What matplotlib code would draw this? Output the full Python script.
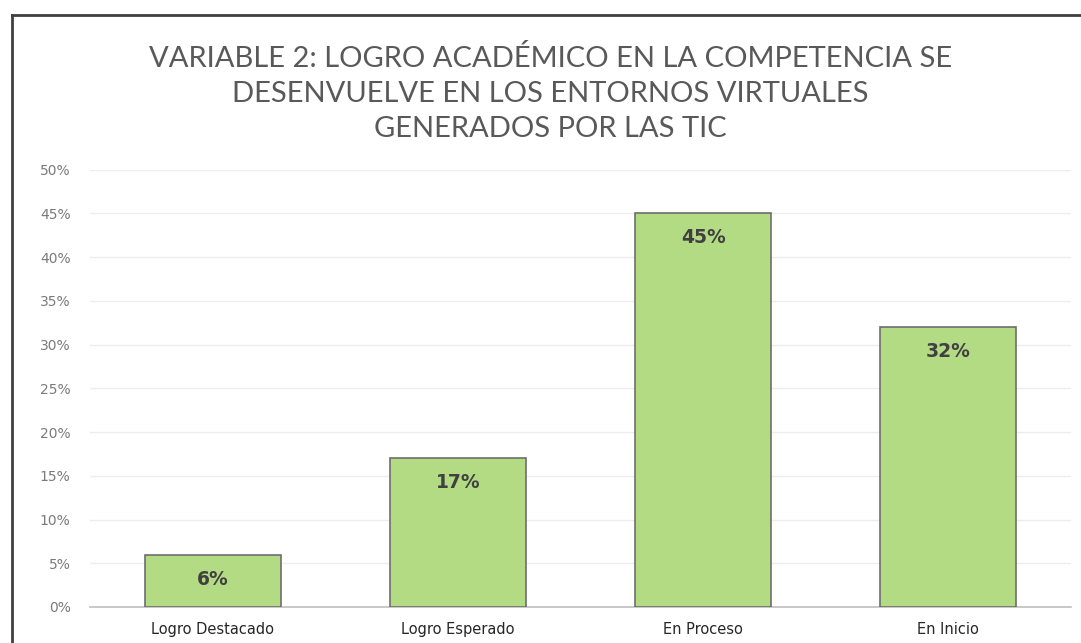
import numpy as np
import matplotlib.pyplot as plt

categorias = ["Logro Destacado", "Logro Esperado", "En Proceso", "En Inicio"]
valores = [0.06, 0.17, 0.45, 0.32]
etiquetas = ["6%", "17%", "45%", "32%"]
ticks_y = [0, 0.05, 0.10, 0.15, 0.20, 0.25, 0.30, 0.35, 0.40, 0.45, 0.50]

plt.rcParams["font.family"] = ["DejaVu Sans"]

fig = plt.figure(figsize=(10.81, 6.43), dpi=100)
ax = fig.add_axes([0.0833, 0.056, 0.9074, 0.68])

x = np.arange(len(categorias))
ax.bar(x, valores, width=0.555, color="#B3DB84", edgecolor="#6E6E6E", linewidth=1.2, zorder=3)

# etiquetas dentro de las barras
for xi, v, t in zip(x, valores, etiquetas):
    ax.text(xi, v - 0.028, t, ha="center", va="center", fontsize=13.5,
            fontweight="bold", color="#404040", zorder=4)

ax.set_xlim(-0.5, len(categorias) - 0.5)
ax.set_ylim(0, 0.5)
ax.set_yticks(ticks_y)
ax.set_yticklabels([f"{int(round(t * 100))}%" for t in ticks_y])
ax.set_xticks(x)
ax.set_xticklabels(categorias)
ax.tick_params(axis="y", length=0, labelsize=10, labelcolor="#7A7A7A", pad=14)
ax.tick_params(axis="x", length=0, labelsize=10.5, labelcolor="#262626", pad=11)
ax.grid(axis="y", color="#EDEDED", linewidth=1, zorder=0)
for s in ["top", "right", "left"]:
    ax.spines[s].set_visible(False)
ax.spines["bottom"].set_color("#BFBFBF")
ax.spines["bottom"].set_linewidth(1.2)

fig.text(0.509, 0.93,
         "VARIABLE 2: LOGRO ACADÉMICO EN LA COMPETENCIA SE\n"
         "DESENVUELVE EN LOS ENTORNOS VIRTUALES\n"
         "GENERADOS POR LAS TIC",
         ha="center", va="top", fontsize=21, color="#595959", linespacing=1.42,
         family=["Lato", "DejaVu Sans"])

# marco exterior (solo se ven los bordes izquierdo y superior)
fig.add_artist(plt.Line2D([0.011, 0.011], [0, 0.977], color="#404040", linewidth=2))
fig.add_artist(plt.Line2D([0.011, 1.0], [0.977, 0.977], color="#404040", linewidth=2))

plt.savefig("out.png", dpi=100)
